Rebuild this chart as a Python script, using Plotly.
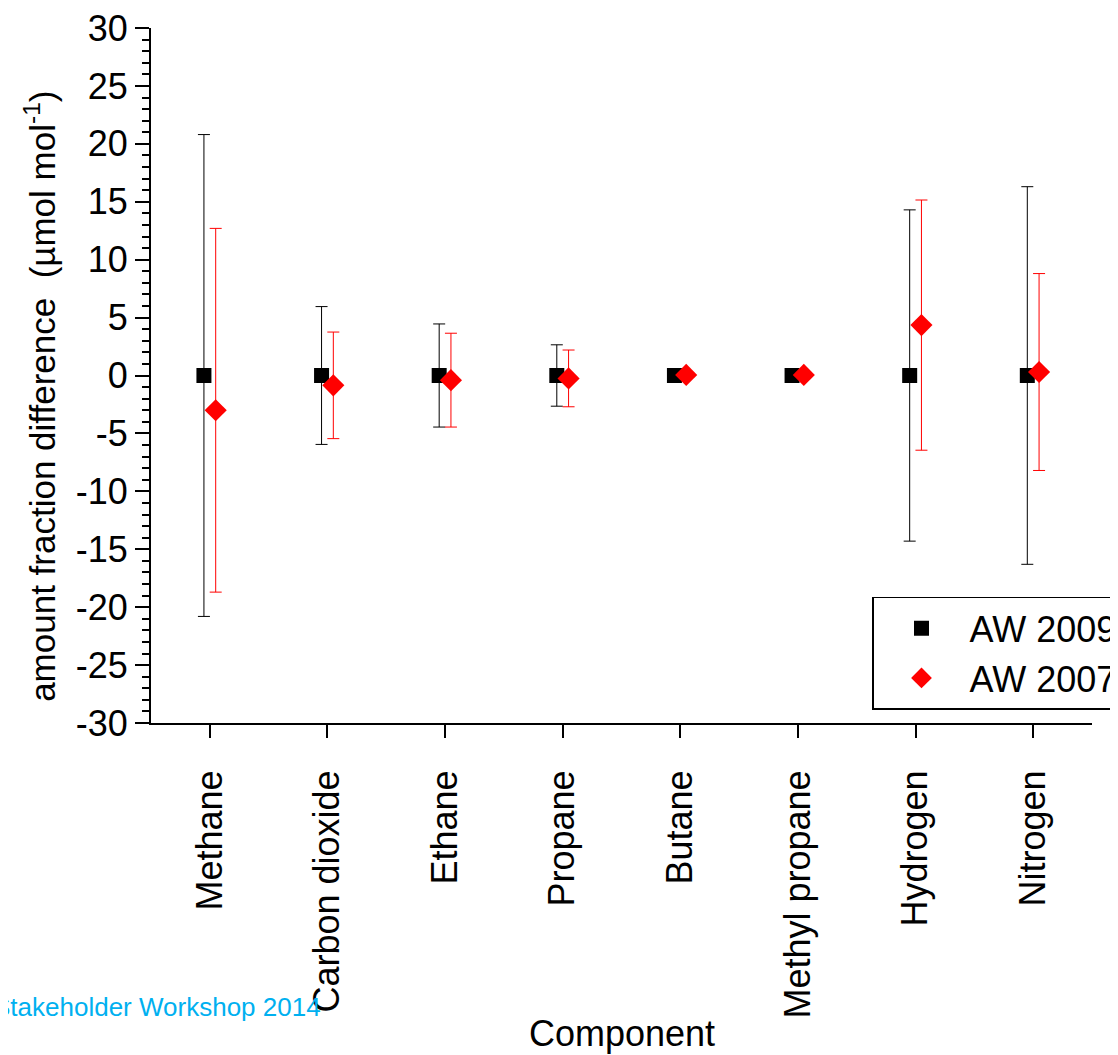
import plotly.graph_objects as go

categories = ["Methane", "Carbon dioxide", "Ethane", "Propane", "Butane",
              "Methyl propane", "Hydrogen", "Nitrogen"]

aw2009_values = [0, 0, 0, 0, 0, 0, 0, 0]
aw2009_errors = [20.8, 5.95, 4.45, 2.65, 0, 0, 14.3, 16.3]

aw2007_values = [-3.0, -0.85, -0.4, -0.25, 0.05, 0.05, 4.35, 0.3]
aw2007_errors = [15.7, 4.6, 4.05, 2.45, 0, 0, 10.8, 8.5]

y_tick_values = [-30, -25, -20, -15, -10, -5, 0, 5, 10, 15, 20, 25, 30]
y_tick_labels = ["-30", "-25", "-20", "-15", "-10", "-5", "0",
                 "5", "10", "15", "20", "25", "30"]

FONT = "Arial, Liberation Sans, sans-serif"
offset = 0.05
idx = list(range(len(categories)))

# page has an 8px body margin; figure coordinates = page coordinates - 8
W, H = 1110, 1047
L, T = 143, 20
PR, PB = 1084, 715.3
pw, ph = PR - L, PB - T

def py(page_y):
    return (PB - (page_y - 8)) / ph

def px(page_x):
    return ((page_x - 8) - L) / pw

fig = go.Figure()
fig.add_trace(go.Scatter(
    x=[i - offset for i in idx], y=aw2009_values, mode="markers", name="AW 2009",
    marker=dict(symbol="square", size=15, color="black"),
    error_y=dict(type="data", array=aw2009_errors, visible=True,
                 color="black", thickness=1, width=6),
))
fig.add_trace(go.Scatter(
    x=[i + offset for i in idx], y=aw2007_values, mode="markers", name="AW 2007",
    marker=dict(symbol="diamond", size=17, color="red"),
    error_y=dict(type="data", array=aw2007_errors, visible=True,
                 color="red", thickness=1, width=6),
))

fig.update_layout(
    width=W, height=H,
    margin=dict(l=L, r=W - PR, t=T, b=H - PB, autoexpand=False),
    plot_bgcolor="white", paper_bgcolor="white",
    font=dict(family=FONT, size=36, color="black"),
    showlegend=True,
    legend=dict(
        x=px(872), y=py(597), xanchor="left", yanchor="top",
        bordercolor="black", borderwidth=1.5, bgcolor="white",
        font=dict(size=36, family=FONT), itemwidth=86,
    ),
)

fig.update_xaxes(
    range=[-0.5, 7.5], tickmode="array", tickvals=idx, ticktext=categories,
    tickangle=-90, ticks="outside", ticklen=13, tickwidth=2, tickcolor="black",
    showline=True, linewidth=2, linecolor="black", showgrid=False, zeroline=False,
    ticklabelstandoff=18, tickfont=dict(size=36), ticklabeloverflow="allow",
)
fig.update_yaxes(
    range=[-30, 30], tickmode="array", tickvals=y_tick_values, ticktext=y_tick_labels,
    ticks="outside", ticklen=14, tickwidth=2, tickcolor="black",
    minor=dict(dtick=1, ticks="outside", ticklen=7, tickwidth=2, tickcolor="black"),
    showline=True, linewidth=2, linecolor="black", showgrid=False, zeroline=False,
    tickfont=dict(size=36), ticklabeloverflow="allow",
)

fig.add_annotation(
    text="Component", xref="paper", yref="paper",
    x=0.5, y=py(1034), xanchor="center", yanchor="middle",
    showarrow=False, font=dict(size=36, family=FONT),
)
fig.add_annotation(
    text="amount fraction difference\u00a0\u00a0(µmol mol<sup>-1</sup>)",
    xref="paper", yref="paper", textangle=-90,
    x=px(40), y=py(397), xanchor="center", yanchor="middle",
    showarrow=False, font=dict(size=35, family=FONT),
)
fig.add_annotation(
    text="Stakeholder Workshop 2014", xref="paper", yref="paper",
    x=px(-9), y=py(1007), xanchor="left", yanchor="middle",
    showarrow=False, font=dict(size=26, color="#00B0F0", family=FONT),
)

fig.write_html("out.html")
